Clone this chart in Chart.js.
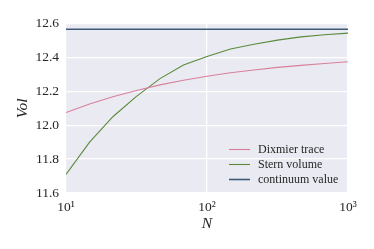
<!DOCTYPE html>
<html>
<head>
<meta charset="utf-8">
<script src="https://cdn.jsdelivr.net/npm/chart.js@4.4.1/dist/chart.umd.min.js"></script>
<style>
  html, body { margin: 0; padding: 0; background: #fff; }
  #wrap { width: 374px; height: 249px; }
</style>
</head>
<body>
<div id="wrap"><canvas id="myChart" width="374" height="249"></canvas></div>
<script>
// N values (log spaced, 10 .. 1000)
const nValues = [10, 14.7, 21.5, 31.6, 46.4, 68.1, 100, 146.8, 215.4, 316.2, 464.2, 681.3, 1000];
const dixmier = [12.075, 12.125, 12.168, 12.205, 12.238, 12.265, 12.289, 12.309, 12.326, 12.341, 12.353, 12.364, 12.374];
const stern = [11.71, 11.90, 12.05, 12.17, 12.275, 12.355, 12.405, 12.45, 12.478, 12.502, 12.521, 12.534, 12.543];
const continuumN = [10, 1000];
const continuumValue = [12.566, 12.566];

const seriesNames = ['Dixmier trace', 'Stern volume', 'continuum value'];
const xTickValues = [10, 100, 1000];
const xTickLabels = ['10\u00B9', '10\u00B2', '10\u00B3'];

const serif = "'Liberation Serif', 'DejaVu Serif', serif";
const textColor = '#262626';

const toPoints = (xs, ys) => xs.map((x, i) => ({x: x, y: ys[i]}));

// grey plot background
const bgPlugin = {
  id: 'bg',
  beforeDraw(chart) {
    const {ctx, chartArea: a} = chart;
    ctx.save();
    ctx.fillStyle = '#eaeaf2';
    ctx.fillRect(a.left, a.top, a.right - a.left, a.bottom - a.top);
    ctx.restore();
  }
};

// legend inside the plot, lower right, no frame
const legendPlugin = {
  id: 'innerLegend',
  afterDraw(chart) {
    const {ctx, chartArea: a} = chart;
    const x0 = a.right - 119;
    const y0 = a.bottom - 43.5;
    ctx.save();
    ctx.font = '12px ' + serif;
    ctx.textBaseline = 'middle';
    chart.data.datasets.forEach((ds, i) => {
      const y = y0 + i * 15;
      ctx.strokeStyle = ds.borderColor;
      ctx.lineWidth = ds.borderWidth;
      ctx.beginPath();
      ctx.moveTo(x0, y);
      ctx.lineTo(x0 + 21, y);
      ctx.stroke();
      ctx.fillStyle = textColor;
      ctx.fillText(ds.label, x0 + 29, y);
    });
    ctx.restore();
  }
};

new Chart(document.getElementById('myChart'), {
  type: 'line',
  data: {
    datasets: [
      {
        label: seriesNames[0],
        data: toPoints(nValues, dixmier),
        borderColor: '#d8809a',
        borderWidth: 1.1,
        pointRadius: 0,
        tension: 0
      },
      {
        label: seriesNames[1],
        data: toPoints(nValues, stern),
        borderColor: '#5b8a3c',
        borderWidth: 1.1,
        pointRadius: 0,
        tension: 0
      },
      {
        label: seriesNames[2],
        data: toPoints(continuumN, continuumValue),
        borderColor: '#3f5a76',
        borderWidth: 1.6,
        pointRadius: 0,
        tension: 0
      }
    ]
  },
  options: {
    responsive: false,
    animation: false,
    layout: { padding: { top: 23.5, right: 26, left: 0, bottom: 0 } },
    plugins: {
      legend: { display: false },
      tooltip: { enabled: false }
    },
    scales: {
      x: {
        type: 'logarithmic',
        min: 10,
        max: 1000,
        afterBuildTicks(scale) {
          scale.ticks = xTickValues.map(v => ({value: v}));
        },
        afterFit(scale) { scale.height = 56; },
        ticks: {
          autoSkip: false,
          maxRotation: 0,
          padding: 6,
          color: textColor,
          font: { family: serif, size: 13.5 },
          callback(value) {
            const i = xTickValues.indexOf(value);
            return i >= 0 ? xTickLabels[i] : '';
          }
        },
        grid: { color: '#ffffff', lineWidth: 1.2, drawTicks: false },
        border: { display: false },
        title: {
          display: true,
          text: 'N',
          color: textColor,
          font: { family: serif, size: 15.5, style: 'italic' },
          padding: { top: 0, bottom: 16 }
        }
      },
      y: {
        min: 11.6,
        max: 12.6,
        afterFit(scale) { scale.width = 66; },
        ticks: {
          stepSize: 0.2,
          padding: 7,
          color: textColor,
          font: { family: serif, size: 13.5 },
          callback: v => v.toFixed(1)
        },
        grid: { color: '#ffffff', lineWidth: 1.2, drawTicks: false },
        border: { display: false },
        title: {
          display: true,
          text: 'Vol',
          color: textColor,
          font: { family: serif, size: 15.5, style: 'italic' },
          padding: { top: 14, bottom: 0 }
        }
      }
    }
  },
  plugins: [bgPlugin, legendPlugin]
});
</script>
</body>
</html>
